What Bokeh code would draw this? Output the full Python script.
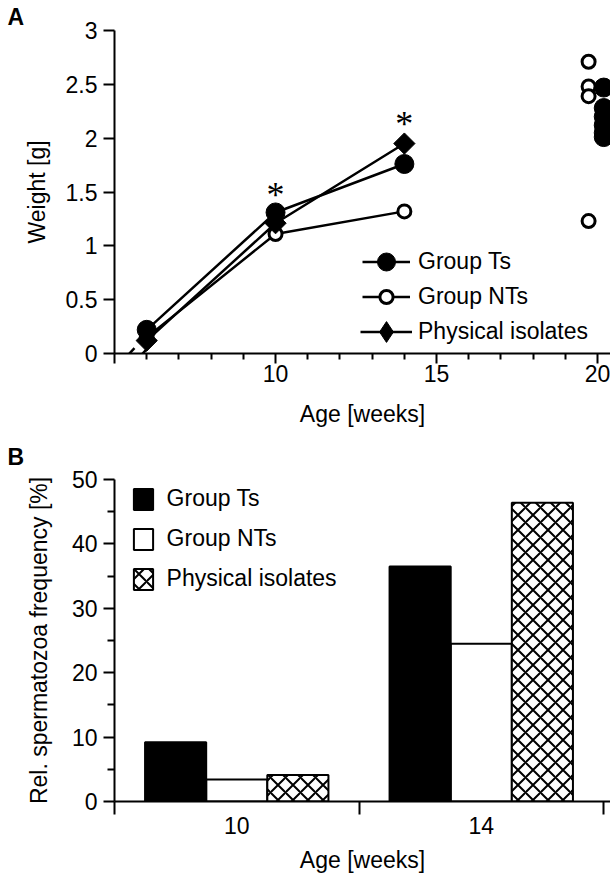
import numpy as np
from bokeh.plotting import figure
from bokeh.models import (FixedTicker, Legend, LegendItem, NumeralTickFormatter,
                          Title, Arrow, ColumnDataSource)
from bokeh.layouts import column
from bokeh.embed import file_html
from bokeh.resources import INLINE

FONT = "Liberation Sans"
FS = "23px"

# ---------------- Panel A data ----------------
weeks = [6, 10, 14]
ts_weight = [0.22, 1.31, 1.76]
nts_weight = [0.15, 1.11, 1.32]
iso_weight = [0.12, 1.21, 1.95]

star_weeks = [10, 14]
star_weight = [1.53, 2.19]

late_nts_week = [19.72, 19.72, 19.72, 19.72]
late_nts_weight = [2.71, 2.48, 2.39, 1.23]
late_ts_week = [20.19, 20.19, 20.19, 20.19, 20.19, 20.19]
late_ts_weight = [2.47, 2.28, 2.20, 2.12, 2.05, 2.01]

break_x0 = [5.31, 5.72]
break_x1 = [5.62, 6.03]
break_y0 = [-0.05, -0.05]
break_y1 = [0.05, 0.05]

a_yticks = [0, 0.5, 1, 1.5, 2, 2.5, 3]
a_xticks = [5, 10, 15, 20]
a_xminor = [6, 7, 8, 9, 11, 12, 13, 14, 16, 17, 18, 19]

# ---------------- Panel B data ----------------
bar_weeks = ["10", "14"]
bar_ts = [9.2, 36.5]
bar_nts = [3.4, 24.5]
bar_iso = [4.1, 46.4]
b_yticks = [0, 10, 20, 30, 40, 50]
b_yminor = [5, 15, 25, 35, 45]


def style_axis(ax):
    ax.axis_line_width = 2
    ax.axis_line_color = "black"
    ax.major_tick_line_width = 2
    ax.minor_tick_line_width = 2
    ax.major_tick_line_color = "black"
    ax.minor_tick_line_color = "black"
    ax.major_tick_in = 0
    ax.minor_tick_in = 0
    ax.major_label_text_font = FONT
    ax.major_label_text_font_size = FS
    ax.major_label_text_color = "black"
    ax.axis_label_text_font = FONT
    ax.axis_label_text_font_size = FS
    ax.axis_label_text_font_style = "normal"
    ax.axis_label_text_color = "black"


def panel_title(letter, standoff):
    return Title(text=letter, align="left", offset=-107, standoff=standoff,
                 text_font=FONT, text_font_size=FS, text_font_style="bold",
                 text_color="black", text_line_height=1.0)


def legend_kw():
    return dict(orientation="vertical", padding=0, margin=0, spacing=0,
                border_line_color=None, background_fill_alpha=0,
                label_text_font=FONT, label_text_font_size=FS,
                label_text_color="black")


# ================= Panel A =================
pA = figure(width=610, height=432, x_range=(5, 20.4), y_range=(0, 3),
            output_backend="svg", toolbar_location=None,
            min_border_left=114, min_border_right=0,
            min_border_top=29, min_border_bottom=79)
pA.outline_line_color = None
pA.xgrid.visible = False
pA.ygrid.visible = False
pA.add_layout(panel_title("A", 2), "above")

xa = pA.xaxis[0]
ya = pA.yaxis[0]
style_axis(xa)
style_axis(ya)
xa.ticker = FixedTicker(ticks=a_xticks, minor_ticks=a_xminor)
xa.major_label_overrides = {5: ""}
xa.major_tick_out = 10
xa.minor_tick_out = 6
xa.major_label_standoff = 1
xa.axis_label = "Age [weeks]"
xa.axis_label_standoff = 16
ya.ticker = FixedTicker(ticks=a_yticks, minor_ticks=[])
ya.formatter = NumeralTickFormatter(format="0.[0]")
ya.major_tick_out = 11
ya.major_label_standoff = 6
ya.axis_label = "Weight [g]"
ya.axis_label_standoff = 13

# axis break marks
brk = ColumnDataSource(dict(x0=break_x0, y0=break_y0, x1=break_x1, y1=break_y1))
pA.add_layout(Arrow(x_start="x0", y_start="y0", x_end="x1", y_end="y1",
                    source=brk, end=None, start=None,
                    line_color="black", line_width=2.5))

l_iso = pA.line(weeks, iso_weight, line_color="black", line_width=2.5)
l_nts = pA.line(weeks, nts_weight, line_color="black", line_width=2.5)
l_ts = pA.line(weeks, ts_weight, line_color="black", line_width=2.5)

s_nts = pA.scatter(weeks, nts_weight, marker="circle", size=13,
                   fill_color="white", line_color="black", line_width=3)
# small diamond (hidden under the rotated squares) serves as the legend key
s_iso_key = pA.scatter(weeks, iso_weight, marker="diamond", size=9,
                       fill_color="black", line_color="black", line_width=1)
s_iso = pA.scatter(weeks, iso_weight, marker="square", angle=np.pi / 4,
                   size=15, fill_color="black", line_color="black", line_width=1)
s_ts = pA.scatter(weeks, ts_weight, marker="circle", size=19,
                  fill_color="black", line_color="black", line_width=1)

pA.scatter(late_nts_week, late_nts_weight, marker="circle", size=13,
           fill_color="white", line_color="black", line_width=3)
pA.scatter(late_ts_week, late_ts_weight, marker="circle", size=19,
           fill_color="black", line_color="black", line_width=1)

pA.text(x=star_weeks, y=star_weight, text=["*"] * len(star_weeks),
        text_font=FONT, text_font_size="36px", text_align="center",
        text_baseline="middle", y_offset=6, text_color="black")

# one legend per row (row centres 261 / 296 / 331 px, frame bottom 353 px)
pA.add_layout(Legend(items=[LegendItem(label="Group Ts", renderers=[l_ts, s_ts])],
                     location=(248, 69.5), glyph_width=48, glyph_height=45,
                     label_height=45, label_standoff=8, **legend_kw()))
pA.add_layout(Legend(items=[LegendItem(label="Group NTs", renderers=[l_nts, s_nts])],
                     location=(248, 40.5), glyph_width=48, glyph_height=33,
                     label_height=33, label_standoff=8, **legend_kw()))
pA.add_layout(Legend(items=[LegendItem(label="Physical isolates",
                                       renderers=[l_iso, s_iso_key])],
                     location=(246, -5.5), glyph_width=52, glyph_height=55,
                     label_height=55, label_standoff=6, **legend_kw()))

# ================= Panel B =================
# (frames of the two panels are aligned by the column, so B's frame also
#  runs to the right edge; its range end puts category boundary 2 at 603 px)
pB = figure(width=610, height=443, x_range=(0, 2.0286), y_range=(0, 50),
            output_backend="svg", toolbar_location=None,
            min_border_left=114, min_border_right=0,
            min_border_top=46, min_border_bottom=74)
pB.outline_line_color = None
pB.xgrid.visible = False
pB.ygrid.visible = False
pB.add_layout(panel_title("B", 19), "above")

xb = pB.xaxis[0]
yb = pB.yaxis[0]
style_axis(xb)
style_axis(yb)
centers = [i + 0.5 for i in range(len(bar_weeks))]
bounds = [float(i) for i in range(len(bar_weeks) + 1)]
xb.ticker = FixedTicker(ticks=centers, minor_ticks=bounds)
xb.major_label_overrides = {c: w for c, w in zip(centers, bar_weeks)}
xb.major_tick_out = 0
xb.minor_tick_out = 13
xb.major_label_standoff = 2
xb.axis_label = "Age [weeks]"
xb.axis_label_standoff = 10
yb.ticker = FixedTicker(ticks=b_yticks, minor_ticks=b_yminor)
yb.major_tick_out = 11
yb.minor_tick_out = 7
yb.major_label_standoff = 6
yb.axis_label = "Rel. spermatozoa frequency [%]"
yb.axis_label_standoff = 17

bw = 0.25
x_ts = [c - bw for c in centers]
x_nts = centers
x_iso = [c + bw for c in centers]

v_nts = pB.vbar(x=x_nts, top=bar_nts, width=bw, bottom=0,
                fill_color="white", line_color="black", line_width=2)
v_ts = pB.vbar(x=x_ts, top=bar_ts, width=bw, bottom=0,
               fill_color="black", line_color="black", line_width=2)
v_iso = pB.vbar(x=x_iso, top=bar_iso, width=bw, bottom=0,
                fill_color="white", line_color="black", line_width=2,
                hatch_pattern="diagonal_cross", hatch_color="black",
                hatch_scale=15, hatch_weight=2)

legB_kw = legend_kw()
legB_kw["spacing"] = 13
pB.add_layout(Legend(items=[LegendItem(label="Group Ts", renderers=[v_ts]),
                            LegendItem(label="Group NTs", renderers=[v_nts]),
                            LegendItem(label="Physical isolates", renderers=[v_iso])],
                     location=(16.6, 209), glyph_width=24, glyph_height=26,
                     label_height=26, label_standoff=12, **legB_kw))

layout = column(pA, pB, spacing=0)
open("out.html", "w").write(file_html(layout, INLINE))
